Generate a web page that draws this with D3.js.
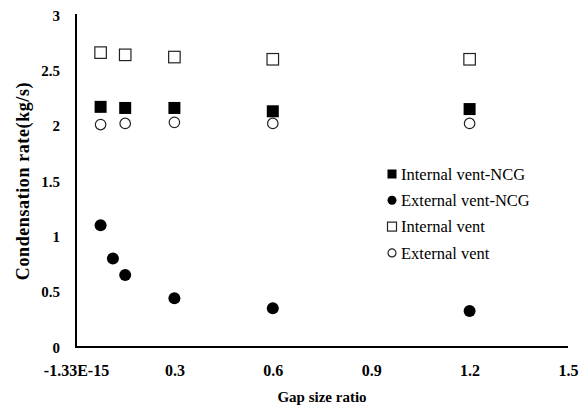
<!DOCTYPE html>
<html>
<head>
<meta charset="utf-8">
<style>
body { margin: 0; background: #fff; }
svg { display: block; }
text { font-family: "Liberation Serif", "Times New Roman", serif; fill: #000; }
.tick text { font-weight: bold; }
.title { font-weight: bold; }
</style>
<script src="https://cdn.jsdelivr.net/npm/d3@7"></script>
</head>
<body>
<svg id="chart" width="587" height="412"></svg>
<script>
// gap size ratio for each run (one extra run for external vent with NCG)
var gapRuns = [0.075, 0.15, 0.3, 0.6, 1.2];
var gapRunsNCG = [0.075, 0.1125, 0.15, 0.3, 0.6, 1.2];

var internalNCG = [2.17, 2.16, 2.16, 2.13, 2.15];
var externalNCG = [1.10, 0.80, 0.65, 0.44, 0.35, 0.325];
var internalVent = [2.66, 2.64, 2.62, 2.60, 2.60];
var externalVent = [2.01, 2.02, 2.03, 2.02, 2.02];

var xTicks = [0, 0.3, 0.6, 0.9, 1.2, 1.5];
var xTickLabels = ['-1.33E-15', '0.3', '0.6', '0.9', '1.2', '1.5'];
var yTicks = [0, 0.5, 1, 1.5, 2, 2.5, 3];

var series = [
	{ name: 'Internal vent-NCG', x: gapRuns, y: internalNCG, shape: 'square', filled: true },
	{ name: 'External vent-NCG', x: gapRunsNCG, y: externalNCG, shape: 'circle', filled: true },
	{ name: 'Internal vent', x: gapRuns, y: internalVent, shape: 'square', filled: false },
	{ name: 'External vent', x: gapRuns, y: externalVent, shape: 'circle', filled: false }
];

var svg = d3.select('#chart');
var margin = { left: 76, right: 19, top: 15, bottom: 65 };
var width = 587 - margin.left - margin.right,
	height = 412 - margin.top - margin.bottom;

var x = d3.scaleLinear().domain([0, 1.5]).range([0, width]);
var y = d3.scaleLinear().domain([0, 3]).range([height, 0]);

var g = svg.append('g').attr('transform', 'translate(' + margin.left + ',' + margin.top + ')');

var xAxis = d3.axisBottom(x).tickValues(xTicks).tickSize(0).tickPadding(0)
	.tickFormat(function (d, i) { return xTickLabels[i]; });
var yAxis = d3.axisLeft(y).tickValues(yTicks).tickSize(0).tickPadding(16)
	.tickFormat(d3.format('~g'));

var gx = g.append('g').attr('transform', 'translate(0,' + height + ')').call(xAxis);
gx.attr('font-family', null).select('.domain').remove();
gx.selectAll('text').attr('dy', null).attr('y', 29).style('font-size', '16px');

var gy = g.append('g').call(yAxis);
gy.attr('font-family', null).select('.domain').remove();
gy.selectAll('text').attr('dy', '0.35em').style('font-size', '15px');

// spines
g.append('line').attr('x1', 0).attr('x2', 0).attr('y1', -1).attr('y2', height + 1)
	.attr('stroke', '#000').attr('stroke-width', 2);
g.append('line').attr('x1', -1).attr('x2', width).attr('y1', height).attr('y2', height)
	.attr('stroke', '#000').attr('stroke-width', 2);

function drawMarker (sel, s, size) {
	if (s.shape === 'square') {
		sel.append('rect')
			.attr('x', -size / 2).attr('y', -size / 2)
			.attr('width', size).attr('height', size)
			.attr('fill', s.filled ? '#000' : '#fff')
			.attr('stroke', s.filled ? 'none' : '#222')
			.attr('stroke-width', 1.2);
	} else {
		sel.append('circle')
			.attr('r', s.filled ? size / 2 : size / 2 - 0.5)
			.attr('fill', s.filled ? '#000' : '#fff')
			.attr('stroke', s.filled ? 'none' : '#222')
			.attr('stroke-width', 1.2);
	}
}

// draw open markers first so filled ones sit on top
[2, 3, 0, 1].forEach(function (k) {
	var s = series[k];
	var pts = s.y.map(function (v, i) { return [s.x[i], v]; });
	g.selectAll(null).data(pts).enter().append('g')
		.attr('transform', function (d) { return 'translate(' + x(d[0]) + ',' + y(d[1]) + ')'; })
		.each(function () { drawMarker(d3.select(this), s, s.filled ? 12 : 11.5); });
});

// legend
var legend = svg.append('g').attr('transform', 'translate(392,174)');
var items = legend.selectAll('g').data(series).enter().append('g')
	.attr('transform', function (d, i) { return 'translate(0,' + (i * 26.3) + ')'; });
items.each(function (d) { drawMarker(d3.select(this), d, 9); });
items.append('text').attr('x', 9).attr('dy', '0.35em')
	.style('font-size', '16.5px')
	.text(function (d) { return d.name; });

// axis titles
svg.append('text').attr('class', 'title')
	.attr('x', margin.left + width / 2).attr('y', 402)
	.attr('text-anchor', 'middle').style('font-size', '15px')
	.text('Gap size ratio');

svg.append('text').attr('class', 'title')
	.attr('transform', 'translate(29,' + (margin.top + height / 2) + ') rotate(-90)')
	.attr('text-anchor', 'middle').style('font-size', '18px').style('letter-spacing', '0.6px')
	.text('Condensation rate(kg/s)');
</script>
</body>
</html>
